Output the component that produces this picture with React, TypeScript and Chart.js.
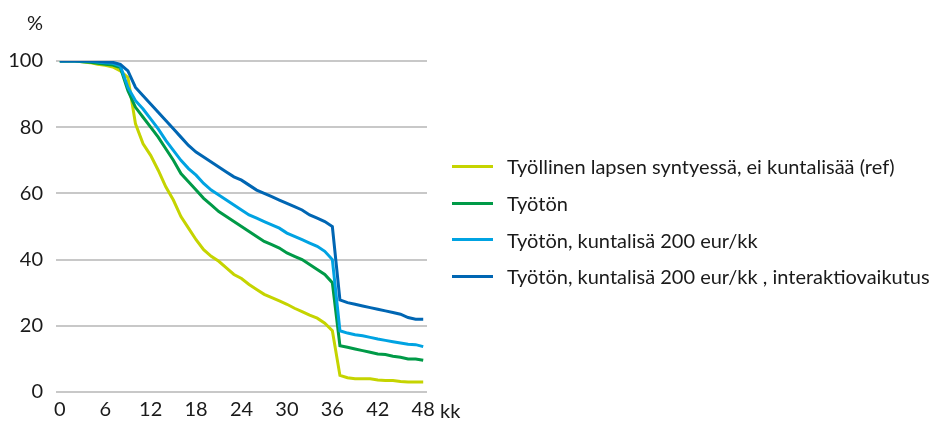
import React, { useEffect, useRef } from "react";
import { Chart, registerables } from "chart.js";

Chart.register(...registerables);

const months = [0,1,2,3,4,5,6,7,8,9,10,11,12,13,14,15,16,17,18,19,20,21,22,23,24,25,26,27,28,29,30,31,32,33,34,35,36,37,38,39,40,41,42,43,44,45,46,47,48];

const refSeries = [100,100,100,99.8,99.5,99,98.7,98.2,97,95,81,75,71.5,67,62,58,53,49.5,46,43,41,39.5,37.5,35.5,34.3,32.5,31,29.5,28.5,27.5,26.5,25.3,24.3,23.2,22.3,20.8,18.5,5,4.3,4,4,4,3.6,3.5,3.5,3.2,3,3,3];
const tyotonSeries = [100,100,100,99.8,99.6,99.3,99,98.8,98,91,86,83,80,77,73.5,70,66,63.5,61,58.5,56.5,54.5,53,51.5,50,48.5,47,45.5,44.5,43.5,42,41,40,38.5,37,35.5,33,14,13.5,13,12.5,12,11.5,11.3,10.8,10.5,10,10,9.6];
const kuntalisaSeries = [100,100,100,100,99.9,99.7,99.5,99.3,98.5,92,88,85.5,82.5,79.5,76,73,70,67.5,65.5,63,61,59.5,58,56.5,55,53.5,52.5,51.5,50.5,49.5,48,47,46,45,44,42.5,40,18.5,17.8,17.3,17,16.5,16,15.6,15.2,14.8,14.4,14.3,13.7];
const interaktioSeries = [100,100,100,100,100,99.9,99.7,99.6,99,97,92,89.5,87,84.5,82,79.5,77,74.5,72.5,71,69.5,68,66.5,65,64,62.5,61,60,59,58,57,56,55,53.5,52.5,51.5,50,27.8,27,26.5,26,25.5,25,24.5,24,23.5,22.5,22,22];

const seriesNames = [
  "Työllinen lapsen syntyessä, ei kuntalisää (ref)",
  "Työtön",
  "Työtön, kuntalisä 200 eur/kk",
  "Työtön, kuntalisä 200 eur/kk , interaktiovaikutus",
];
const seriesColors = ["#c5d400", "#009a47", "#00a3e2", "#0066b3"];
const seriesValues = [refSeries, tyotonSeries, kuntalisaSeries, interaktioSeries];

const xTicks = [0, 6, 12, 18, 24, 30, 36, 42, 48];
const yTicks = [0, 20, 40, 60, 80, 100];
const yUnit = "%";
const xUnit = "kk";

const FONT = "Lato, 'Noto Sans', sans-serif";
const TEXT = "#1a1a1a";
const FS = 20;

export default function App() {
  const ref = useRef<HTMLCanvasElement | null>(null);

  useEffect(() => {
    if (!ref.current) return;
    const order = [3, 2, 1, 0];
    const chart = new Chart(ref.current, {
      type: "line",
      data: {
        datasets: order.map((i) => ({
          label: seriesNames[i],
          data: months.map((m, k) => ({ x: m, y: seriesValues[i][k] })),
          borderColor: seriesColors[i],
          backgroundColor: seriesColors[i],
          borderWidth: 3,
          pointRadius: 0,
          tension: 0,
          fill: false,
        })),
      },
      options: {
        animation: false,
        responsive: true,
        maintainAspectRatio: false,
        layout: { padding: { left: 0, top: 61, right: 508, bottom: 0 } },
        plugins: { legend: { display: false }, tooltip: { enabled: false } },
        scales: {
          x: {
            type: "linear",
            min: -0.5,
            max: 48.5,
            afterBuildTicks: (s: any) => {
              s.ticks = xTicks.map((v) => ({ value: v }));
            },
            afterFit: (s: any) => {
              s.height = 31;
            },
            grid: { display: false, drawTicks: false },
            border: { display: false },
            ticks: {
              autoSkip: false,
              maxRotation: 0,
              padding: 6,
              color: TEXT,
              font: { family: FONT, size: FS },
            },
          },
          y: {
            min: 0,
            max: 100,
            afterBuildTicks: (s: any) => {
              s.ticks = yTicks.map((v) => ({ value: v }));
            },
            afterFit: (s: any) => {
              s.width = 56;
            },
            grid: { color: "#c8c8c8", lineWidth: 2, drawTicks: false },
            border: { display: false },
            ticks: {
              padding: 13,
              color: TEXT,
              font: { family: FONT, size: FS },
            },
          },
        },
      },
    });
    return () => chart.destroy();
  }, []);

  return (
    <div style={{ position: "fixed", left: 0, top: 0, width: 935, height: 423, background: "#fff", fontFamily: FONT, color: TEXT }}>
      <canvas ref={ref} />
      <span style={{ position: "absolute", left: 27, top: 10, fontSize: FS }}>{yUnit}</span>
      <span style={{ position: "absolute", left: 440, top: 398, fontSize: FS }}>{xUnit}</span>
      <div style={{ position: "absolute", left: 452, top: 148 }}>
        {seriesNames.map((n, i) => (
          <div key={n} style={{ display: "flex", alignItems: "center", height: 36.7 }}>
            <div style={{ width: 41, height: 3, background: seriesColors[i], marginRight: 14 }} />
            <span style={{ fontSize: FS, whiteSpace: "nowrap" }}>{n}</span>
          </div>
        ))}
      </div>
    </div>
  );
}
